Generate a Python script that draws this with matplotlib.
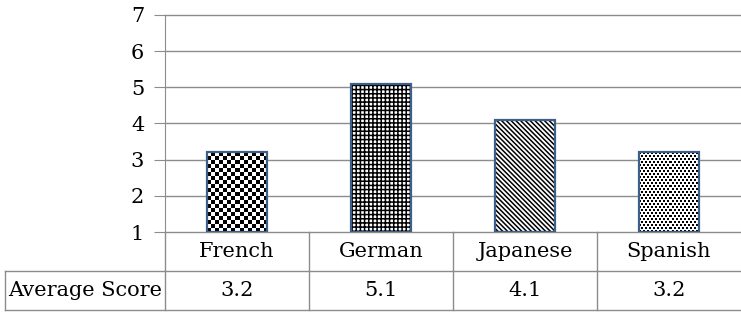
import matplotlib
matplotlib.use("Agg")
import matplotlib.pyplot as plt
import numpy as np

categories = ["French", "German", "Japanese", "Spanish"]
scores = [3.2, 5.1, 4.1, 3.2]
row_label = "Average Score"
patterns = ["checker", "++++", "\\" * 7, "dots"]

plt.rcParams["font.family"] = "DejaVu Serif"
plt.rcParams["hatch.linewidth"] = 1.1

W, H = 741, 313
fig = plt.figure(figsize=(W / 100, H / 100), dpi=100)
ax = fig.add_axes([165 / W, 1 - 232 / H, 576 / W, 217 / H])

x = np.arange(len(categories))
grid_c = "#8c8c8c"
edge_c = "#3e5f8a"
bar_w = 0.42

ax.set_xlim(-0.5, len(categories) - 0.5)
ax.set_ylim(1, 7)
for v in range(1, 8):
    ax.axhline(v, color=grid_c, lw=1, zorder=0, clip_on=False)

px_x = 576 / len(categories)   # pixels per category
px_y = 217 / 6                 # pixels per unit score


def pixel_pattern(kind, ny, nx):
    r, c = np.mgrid[0:ny, 0:nx]
    if kind == "checker":
        return ((r // 4 + c // 4) % 2).astype(float)
    # staggered dots
    shift = (r // 3) * 2
    return 1.0 - (((r % 3) < 2) & (((c + shift) % 4) < 2)).astype(float)


bars = ax.bar(x, np.array(scores) - 1, bottom=1, width=bar_w, color="white",
              edgecolor="black", linewidth=0, zorder=2)
for b, p in zip(bars, patterns):
    if p in ("checker", "dots"):
        x0, y0 = b.get_x(), b.get_y()
        w, hh = b.get_width(), b.get_height()
        nx = int(round(w * px_x))
        ny = int(round(hh * px_y))
        im = ax.imshow(pixel_pattern(p, ny, nx), cmap="gray", vmin=0, vmax=1,
                       extent=[x0, x0 + w, y0, y0 + hh], origin="lower",
                       aspect="auto", interpolation="nearest", zorder=2.5)
        im.set_clip_path(b)
    else:
        b.set_hatch(p)
ax.bar(x, np.array(scores) - 1, bottom=1, width=bar_w, fill=False,
       edgecolor=edge_c, linewidth=1.6, zorder=3)

ax.set_xticks([])
ax.set_yticks(range(1, 8))
ax.tick_params(axis="y", length=8, color=grid_c, labelsize=15, pad=7)
for s in ["top", "right", "bottom"]:
    ax.spines[s].set_visible(False)
ax.spines["left"].set_color(grid_c)

# data table below the axes
row_h = 39 / px_y
tr = ax.transData
lx = (5 - 165) / px_x - 0.5
kw = dict(color=grid_c, lw=1, clip_on=False, transform=tr)
ax.plot([lx, 3.5], [1 - row_h, 1 - row_h], **kw)
ax.plot([lx, 3.5], [1 - 2 * row_h, 1 - 2 * row_h], **kw)
ax.plot([lx, lx], [1 - row_h, 1 - 2 * row_h], **kw)
for i in range(len(categories)):
    ax.plot([i - 0.5, i - 0.5], [1, 1 - 2 * row_h], **kw)
    ax.text(i, 1 - row_h / 2, categories[i], ha="center", va="center",
            fontsize=15, clip_on=False)
    ax.text(i, 1 - 1.5 * row_h, f"{scores[i]:.1f}", ha="center", va="center",
            fontsize=15, clip_on=False)
ax.text((lx - 0.5) / 2, 1 - 1.5 * row_h, row_label, ha="center", va="center",
        fontsize=15, clip_on=False)

fig.savefig("out.png", dpi=100)
